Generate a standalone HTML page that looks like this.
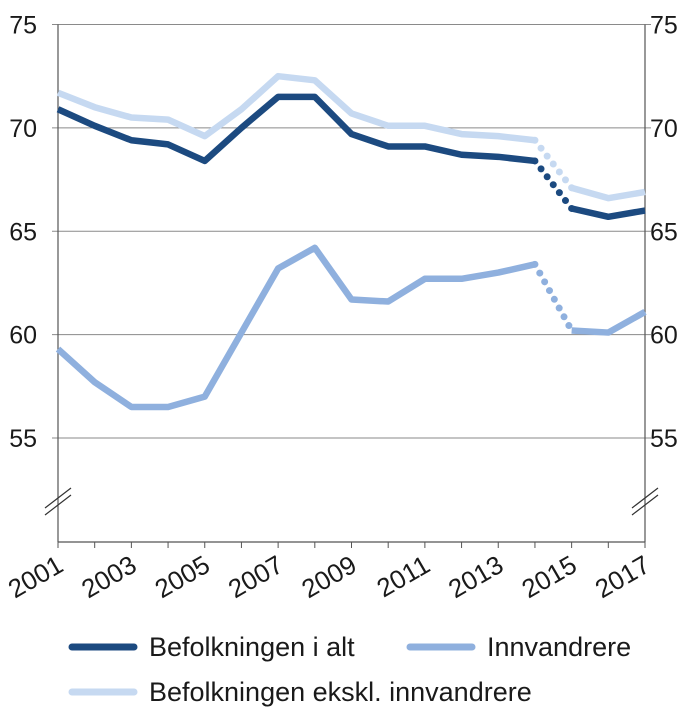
<!DOCTYPE html>
<html><head><meta charset="utf-8"><style>
body{margin:0;background:#fff;}
svg text{font-family:"Liberation Sans",Arial,sans-serif;fill:#1a1a1a;}
</style></head><body>
<svg id="chart" width="700" height="723" xmlns="http://www.w3.org/2000/svg"></svg>
<script>
const years=[2001,2002,2003,2004,2005,2006,2007,2008,2009,2010,2011,2012,2013,2014,2015,2016,2017];
const totalSeries=[70.9,70.1,69.4,69.2,68.4,70.0,71.5,71.5,69.7,69.1,69.1,68.7,68.6,68.4,66.1,65.7,66.0];
const exclSeries=[71.7,71.0,70.5,70.4,69.6,70.9,72.5,72.3,70.7,70.1,70.1,69.7,69.6,69.4,67.1,66.6,66.9];
const immSeries=[59.3,57.7,56.5,56.5,57.0,60.1,63.2,64.2,61.7,61.6,62.7,62.7,63.0,63.4,60.2,60.1,61.1];
const yTicks=[55,60,65,70,75];
const xTickLabels=[2001,2003,2005,2007,2009,2011,2013,2015,2017];
const breakIndex=13;

const NS="http://www.w3.org/2000/svg";
const svg=document.getElementById('chart');
const X0=58,X1=645;
const xS=y=>X0+(y-2001)*(X1-X0)/16;
const yS=v=>24.5+(75-v)*(438-24.5)/20;
function el(t,a,p){const e=document.createElementNS(NS,t);for(const k in a)e.setAttribute(k,a[k]);(p||svg).appendChild(e);return e;}

yTicks.forEach(v=>{
  const g=el('line',{x1:X0-6,x2:X1+6,y1:yS(v),y2:yS(v),stroke:'#8a8a8a','stroke-width':1});
  
  
  const l=el('text',{x:37,y:yS(v)+9,'text-anchor':'end','font-size':25});
  l.textContent=v;
  
  
  const r=el('text',{x:650,y:yS(v)+9,'text-anchor':'start','font-size':25});
  r.textContent=v;
  
  
});
[[X0,'left'],[X1,'right']].forEach(([x,n])=>{
  const a=el('line',{x1:x,x2:x,y1:yS(75),y2:542,stroke:'#555','stroke-width':1.2});
  
  
  const m=el('path',{d:`M${x-13} ${508}L${x+13} ${488}M${x-13} ${515}L${x+13} ${495}`,stroke:'#333','stroke-width':1.2,fill:'none'});
  
  
});
const xa=el('line',{x1:X0,x2:X1,y1:542,y2:542,stroke:'#555','stroke-width':1.2});


years.forEach(y=>{
  const t=el('line',{x1:xS(y),x2:xS(y),y1:542,y2:548,stroke:'#555'});
  
  
});
xTickLabels.forEach(y=>{
  const ax=xS(y)+7, ay=570;
  const t=el('text',{x:ax,y:ay,'text-anchor':'end','font-size':26,transform:`rotate(-30 ${ax} ${ay})`});
  t.textContent=y;
  
  
});
function series(vals,color,name){
  const pts=vals.map((v,i)=>[xS(years[i]),yS(v)]);
  const s1=pts.slice(0,breakIndex+1).map(p=>p.join(',')).join(' ');
  const s2=pts.slice(breakIndex+1).map(p=>p.join(',')).join(' ');
  const a=el('polyline',{points:s1,fill:'none',stroke:color,'stroke-width':6.5,'stroke-linejoin':'round'});
  
  
  const b=el('polyline',{points:s2,fill:'none',stroke:color,'stroke-width':6.5,'stroke-linejoin':'round'});
  
  
  const p=pts[breakIndex],q=pts[breakIndex+1];
  const d=el('line',{x1:p[0],y1:p[1],x2:q[0],y2:q[1],stroke:color,'stroke-width':7,'stroke-dasharray':'0 10','stroke-linecap':'round'});
  
  
}
series(exclSeries,'#c6d9f1','excl-immigrants');
series(immSeries,'#8fb0de','immigrants');
series(totalSeries,'#1c4a80','total-population');
[[72,647,'#1c4a80','Befolkningen i alt'],[410,647,'#8fb0de','Innvandrere'],[72,692,'#c6d9f1','Befolkningen ekskl. innvandrere']].forEach(([x,y,c,t],i)=>{
  const g=el('g',{});
  
  
  el('line',{x1:x,x2:x+62,y1:y,y2:y,stroke:c,'stroke-width':7,'stroke-linecap':'round'},g);
  const tx=el('text',{x:x+77,y:y+9,'font-size':27},g);
  tx.textContent=t;
});
</script>
</body></html>
